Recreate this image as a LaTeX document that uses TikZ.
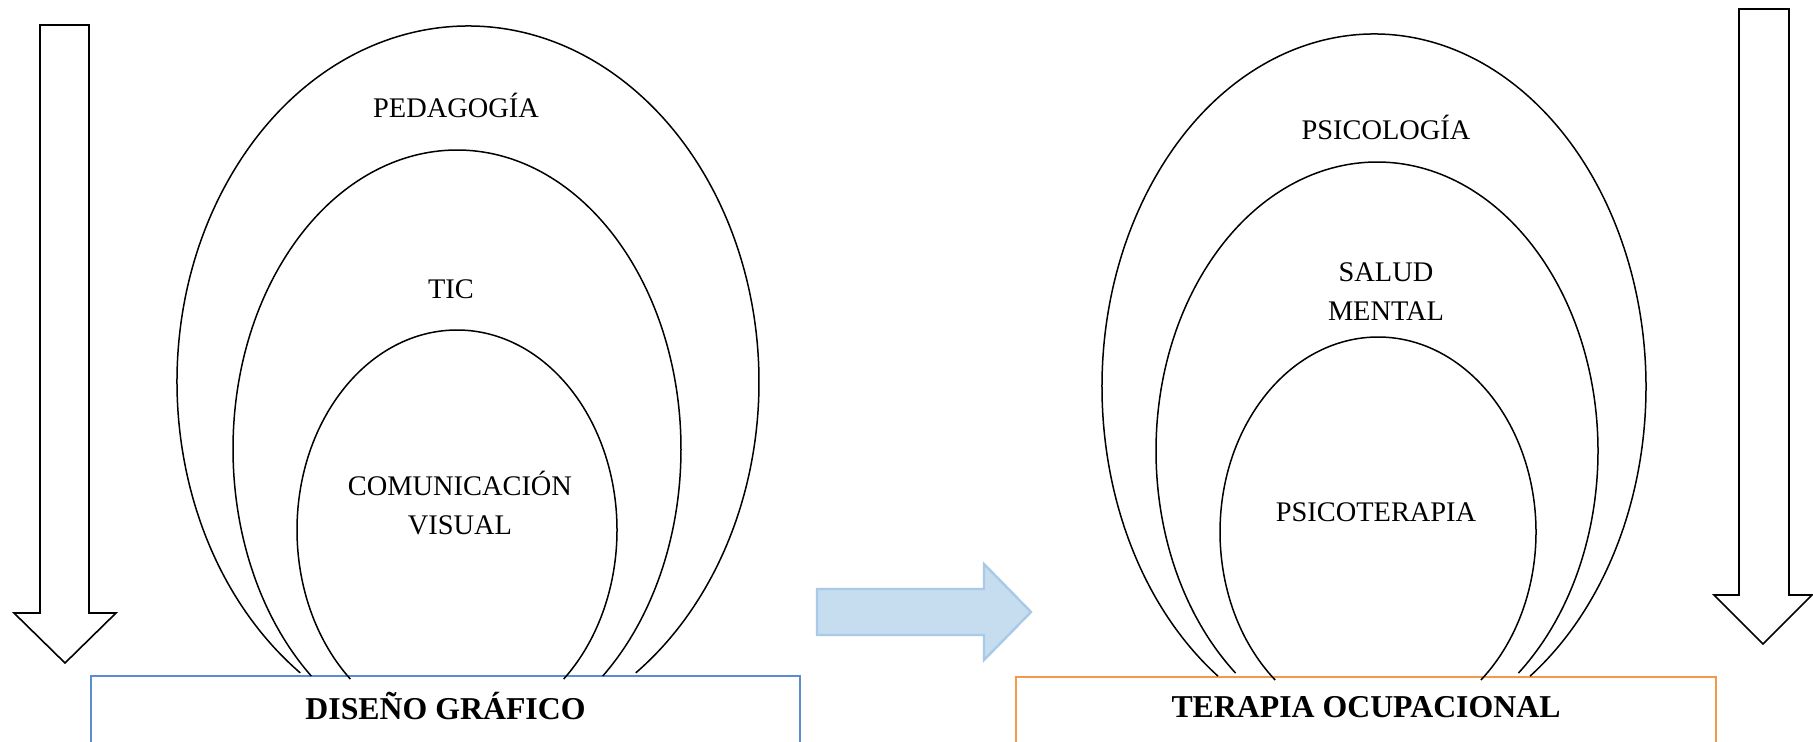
\documentclass[tikz,border=0pt]{standalone}
\usepackage{fontspec}
\setmainfont{Liberation Serif}
\usepackage{tikz}
\usetikzlibrary{positioning}
\usepackage{xcolor}
\definecolor{boxblue}{HTML}{5B8BD0}
\definecolor{boxorange}{HTML}{F29A4A}
\definecolor{flowfill}{HTML}{C6DDF0}
\definecolor{flowline}{HTML}{A8CAE8}

\begin{document}
\begin{tikzpicture}[x=0.5pt,y=-0.5pt,
  ring/.style={line width=0.75pt},
  field/.style={font=\fontsize{14.2}{19.5}\selectfont, align=center, inner sep=0pt},
  title/.style={font=\fontsize{15.9}{19}\selectfont\bfseries, inner sep=0pt},
  basebox/.style={draw=#1, line width=1.1pt, fill=white},
  downarrow/.style={draw, line width=0.8pt, fill=white}]
  \clip (0,0) rectangle (1813,742);

  % vertical arrows at both sides
  \draw[downarrow] (40,25) -- (89,25) -- (89,613) -- (116,613) -- (65,663) -- (14,613) -- (40,613) -- cycle;
  \draw[downarrow] (1739,9) -- (1789,9) -- (1789,595) -- (1812,595) -- (1763,644) -- (1714,595) -- (1739,595) -- cycle;

  % base boxes
  \draw[basebox=boxblue] (91,676) rectangle (800,770);
  \draw[basebox=boxorange] (1016,677) rectangle (1716,770);
  \node[title] (diseno) at (445.5,706) {DISEÑO GRÁFICO};
  \node[title] (terapia) at (1366,707) {TERAPIA OCUPACIONAL};

  % arrow between the two fields
  \draw[fill=flowfill, draw=flowline, line width=1.2pt] (817,589) -- (984,589) -- (984,564) -- (1031,612) -- (984,660) -- (984,635) -- (817,635) -- cycle;

  % left rings
  \draw[ring] (468,382) ++(125.2:291 and 356) arc[start angle=125.2, end angle=414.8, x radius=291, y radius=356];
  \draw[ring] (457,449) ++(130.6:224 and 299) arc[start angle=130.6, end angle=409.4, x radius=224, y radius=299];
  \draw[ring] (457,530) ++(131.8:160 and 200) arc[start angle=131.8, end angle=408.2, x radius=160, y radius=200];
  \node[field] (pedagogia) at (456,105) {PEDAGOGÍA};
  \node[field] (tic) at (451,289) {TIC};
  \node[field] (comvis) at (460,503) {COMUNICACIÓN\\VISUAL};

  % right rings
  \draw[ring] (1374,387) ++(125:272 and 353) arc[start angle=125, end angle=415, x radius=272, y radius=353];
  \draw[ring] (1377,451) ++(129.8:221 and 289) arc[start angle=129.8, end angle=410.2, x radius=221, y radius=289];
  \draw[ring] (1378,532) ++(130.6:158 and 195) arc[start angle=130.6, end angle=409.4, x radius=158, y radius=195];
  \node[field] (psicologia) at (1386,127) {PSICOLOGÍA};
  \node[field] (salud) at (1386,292) {SALUD\\MENTAL};
  \node[field] (psicoterapia) at (1376,512) {PSICOTERAPIA};
\end{tikzpicture}
\end{document}
